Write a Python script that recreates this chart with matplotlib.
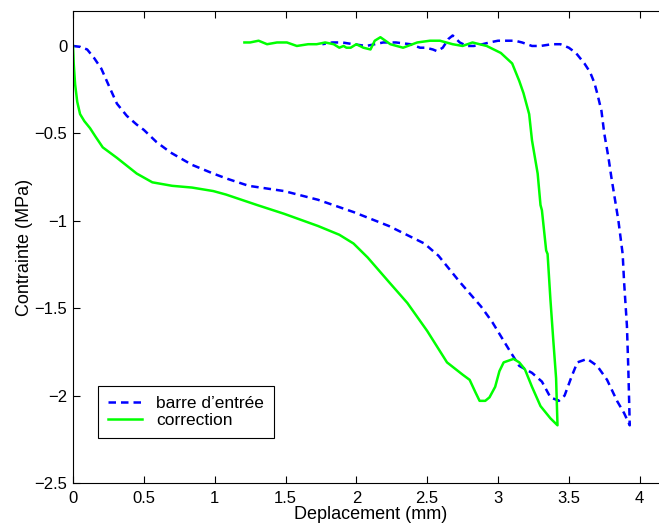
import numpy as np
import matplotlib
matplotlib.use('Agg')
import matplotlib.pyplot as plt

plt.rcParams['font.family'] = ['Liberation Sans', 'DejaVu Sans']

# barre d'entree (dashed blue): loading branch then unloading back to 0
entree_x = [0, 0.05, 0.1, 0.15, 0.2, 0.26, 0.31, 0.38, 0.45, 0.5, 0.59, 0.69,
            0.84, 0.99, 1.09, 1.24, 1.49, 1.73, 1.98, 2.23, 2.48, 2.58, 2.73,
            2.88, 2.96, 3.08, 3.15, 3.24, 3.31, 3.37, 3.43, 3.47, 3.52, 3.56,
            3.63, 3.70, 3.77, 3.84, 3.89, 3.93,
            3.92, 3.91, 3.89, 3.88, 3.85, 3.83, 3.80, 3.78, 3.75, 3.73, 3.70,
            3.68, 3.65, 3.61, 3.55, 3.50, 3.44, 3.38, 3.30, 3.24, 3.17, 3.12,
            3.05, 3.0, 2.94, 2.89, 2.83, 2.78, 2.73, 2.68, 2.65, 2.61, 2.57,
            2.54, 2.49, 2.45, 2.38, 2.28, 2.19, 2.13, 2.07, 1.98, 1.90, 1.83,
            1.76]
entree_y = [0, -0.005, -0.02, -0.07, -0.13, -0.24, -0.33, -0.4, -0.45, -0.48,
            -0.55, -0.61, -0.68, -0.73, -0.76, -0.8, -0.83, -0.88, -0.95,
            -1.03, -1.13, -1.2, -1.35, -1.49, -1.58, -1.74, -1.83, -1.87,
            -1.92, -2.01, -2.03, -2.0, -1.89, -1.81, -1.79, -1.83, -1.91,
            -2.03, -2.1, -2.17,
            -1.85, -1.6, -1.35, -1.19, -1.0, -0.9, -0.75, -0.64, -0.5, -0.37,
            -0.27, -0.21, -0.15, -0.1, -0.04, -0.01, 0.01, 0.01, 0.0, 0.0,
            0.02, 0.03, 0.03, 0.03, 0.02, 0.01, 0.0, 0.0, 0.02, 0.06, 0.04,
            -0.01, -0.03, -0.02, -0.01, -0.01, 0.01, 0.02, 0.02, 0.01, 0.0,
            0.01, 0.02, 0.02, 0.01]

# correction (solid green)
corr_x = [0, 0.005, 0.015, 0.03, 0.05, 0.08, 0.12, 0.16, 0.21, 0.31, 0.45,
          0.56, 0.70, 0.84, 0.99, 1.08, 1.19, 1.30, 1.49, 1.73, 1.88, 1.98,
          2.08, 2.23, 2.36, 2.50, 2.64, 2.75, 2.80, 2.84, 2.87, 2.91, 2.94,
          2.98, 3.01, 3.04, 3.11, 3.15, 3.19, 3.24, 3.30, 3.37, 3.42,
          3.41, 3.39, 3.37, 3.35, 3.34, 3.31, 3.30, 3.28, 3.24, 3.22, 3.18,
          3.15, 3.10, 3.06, 3.02, 2.97, 2.92, 2.87, 2.82, 2.75, 2.68, 2.59,
          2.52, 2.43, 2.33, 2.24, 2.17, 2.13, 2.10, 2.05, 2.0, 1.96, 1.93,
          1.91, 1.88, 1.84, 1.78, 1.72, 1.66, 1.58, 1.51, 1.44, 1.37, 1.31,
          1.25, 1.21]
corr_y = [0, -0.1, -0.22, -0.32, -0.39, -0.43, -0.47, -0.52, -0.58, -0.64,
          -0.73, -0.78, -0.8, -0.81, -0.83, -0.85, -0.88, -0.91, -0.96, -1.03,
          -1.08, -1.13, -1.21, -1.35, -1.47, -1.63, -1.81, -1.88, -1.91,
          -1.98, -2.03, -2.03, -2.01, -1.95, -1.86, -1.81, -1.79, -1.81,
          -1.85, -1.95, -2.06, -2.13, -2.17,
          -1.9, -1.68, -1.45, -1.19, -1.17, -0.94, -0.91, -0.73, -0.54, -0.39,
          -0.27, -0.2, -0.1, -0.07, -0.04, -0.02, 0.0, 0.01, 0.02, 0.0, 0.01,
          0.03, 0.03, 0.02, -0.01, 0.01, 0.05, 0.03, -0.02, -0.01, 0.01,
          -0.01, -0.01, 0.0, -0.01, 0.01, 0.02, 0.01, 0.01, 0.0, 0.02, 0.02,
          0.01, 0.03, 0.02, 0.02]

fig = plt.figure(figsize=(6.59, 5.25), dpi=100)
# axes box runs slightly past the right edge of the picture, as in the original
ax = fig.add_axes([73 / 659, 42 / 525, 595 / 659, 472 / 525])

ax.plot(entree_x, entree_y, color=(0, 0, 1), lw=1.8, dashes=(3, 2),
        label="barre d\u2019entr\u00e9e")
ax.plot(corr_x, corr_y, color=(0, 1, 0), lw=1.8, label='correction')

ax.set_xlim(0, 4.2)
ax.set_ylim(-2.5, 0.2)
ax.set_xticks(np.arange(0, 4.01, 0.5))
ax.set_xticklabels(['0', '0.5', '1', '1.5', '2', '2.5', '3', '3.5', '4'])
ax.set_yticks([-2.5, -2, -1.5, -1, -0.5, 0])
ax.set_yticklabels(['\u22122.5', '\u22122', '\u22121.5', '\u22121', '\u22120.5', '0'])
ax.tick_params(direction='in', top=True, right=True, length=5, width=0.8,
               labelsize=12, pad=4)
ax.tick_params(axis='x', pad=6)
for s in ax.spines.values():
    s.set_linewidth(0.8)

ax.set_xlabel('Deplacement (mm)', fontsize=13, labelpad=0)
ax.set_ylabel('Contrainte (MPa)', fontsize=13, labelpad=1)

leg = ax.legend(loc='lower left', bbox_to_anchor=(25 / 595, 45 / 472),
                borderaxespad=0, fancybox=False, framealpha=1,
                edgecolor='black', fontsize=12.5, handlelength=2.0,
                handletextpad=0.8, labelspacing=0.15, borderpad=0.55)
leg.get_frame().set_linewidth(0.8)

fig.savefig('out.png', dpi=100)
